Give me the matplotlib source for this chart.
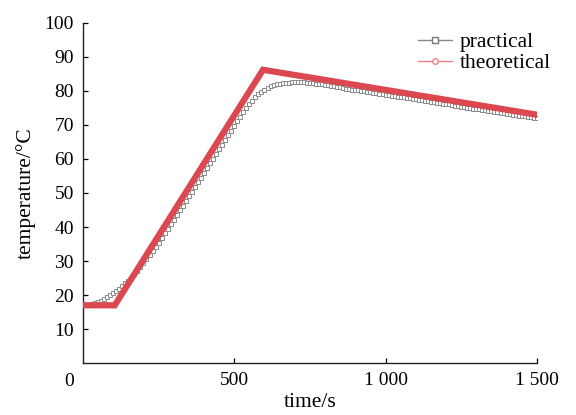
import numpy as np
import matplotlib.pyplot as plt
from matplotlib.lines import Line2D

plt.rcParams['font.family'] = ['Liberation Serif', 'DejaVu Serif']

# practical curve, read every 10 s
t_prac = np.arange(0, 1510, 10)
T_prac = [17.0, 17.1, 17.2, 17.4, 17.7, 18.0, 18.4, 18.9, 19.4, 19.9,
          20.5, 21.1, 21.8, 22.6, 23.4, 24.2, 25.1, 26.1, 27.1, 28.2,
          29.3, 30.5, 31.7, 32.9, 34.2, 35.4, 36.8, 38.1, 39.5, 40.8,
          42.2, 43.6, 44.9, 46.3, 47.6, 49.0, 50.4, 51.8, 53.1, 54.5,
          55.9, 57.3, 58.7, 60.0, 61.4, 62.8, 64.2, 65.6, 67.0, 68.3,
          69.7, 71.1, 72.4, 73.7, 74.9, 76.0, 77.1, 78.1, 79.0, 79.8,
          80.4, 80.9, 81.3, 81.7, 81.9, 82.1, 82.3, 82.4, 82.4, 82.5,
          82.5, 82.5, 82.5, 82.5, 82.4, 82.3, 82.2, 82.1, 82.0, 81.9,
          81.8, 81.6, 81.5, 81.3, 81.2, 81.0, 80.9, 80.7, 80.6, 80.4,
          80.3, 80.2, 80.0, 79.9, 79.7, 79.6, 79.5, 79.3, 79.2, 79.0,
          78.9, 78.8, 78.6, 78.5, 78.3, 78.2, 78.1, 77.9, 77.8, 77.6,
          77.5, 77.4, 77.2, 77.1, 76.9, 76.8, 76.7, 76.5, 76.4, 76.2,
          76.1, 76.0, 75.8, 75.7, 75.5, 75.4, 75.3, 75.1, 75.0, 74.8,
          74.7, 74.6, 74.4, 74.3, 74.1, 74.0, 73.9, 73.7, 73.6, 73.4,
          73.3, 73.2, 73.0, 72.9, 72.7, 72.6, 72.5, 72.3, 72.2, 72.0,
          71.9]

# theoretical curve (break points)
t_theo = [0, 105, 595, 1500]
T_theo = [17.0, 17.0, 86.2, 73.0]

xticks = [500, 1000, 1500]
xticklabels = ['500', '1 000', '1 500']
yticks = [10, 20, 30, 40, 50, 60, 70, 80, 90, 100]

red = '#dc4850'

fig = plt.figure(figsize=(5.76, 4.15), dpi=100)
ax = fig.add_axes([0.144, 0.125, 0.788, 0.82])

ax.plot(t_theo, T_theo, color=red, linewidth=4.5, solid_joinstyle='miter', zorder=3)
ax.plot(t_prac, T_prac, color='#555555', linewidth=0.8, marker='s', markersize=3.0,
        markerfacecolor='white', markeredgecolor='#8a8a8a', markeredgewidth=0.7, zorder=2)

ax.set_xlim(0, 1500)
ax.set_ylim(0, 100)
ax.set_xticks(xticks)
ax.set_xticklabels(xticklabels)
ax.set_yticks(yticks)
ax.tick_params(direction='in', length=3.5, width=0.9, labelsize=14, pad=6.5)
for s in ['top', 'right']:
    ax.spines[s].set_visible(False)
for s in ['left', 'bottom']:
    ax.spines[s].set_linewidth(1.0)
    ax.spines[s].set_color('#222222')

ax.text(-0.03, -0.03, '0', transform=ax.transAxes, ha='center', va='top', fontsize=14)
ax.set_xlabel('time/s', fontsize=15.5, labelpad=3)
ax.set_ylabel('temperature/\u00b0C', fontsize=15.5, labelpad=6.5)

handles = [Line2D([], [], color='#888888', linewidth=1, marker='s', markersize=4,
                  markerfacecolor='white', markeredgecolor='#777777'),
           Line2D([], [], color='#f08080', linewidth=1, marker='o', markersize=4,
                  markerfacecolor='white', markeredgecolor='#f08080')]
ax.legend(handles, ['practical', 'theoretical'], loc='upper right', frameon=False,
          fontsize=15.5, handlelength=1.6, handletextpad=0.35, labelspacing=0.05,
          bbox_to_anchor=(1.074, 1.03))

fig.savefig('out.png', dpi=100)
